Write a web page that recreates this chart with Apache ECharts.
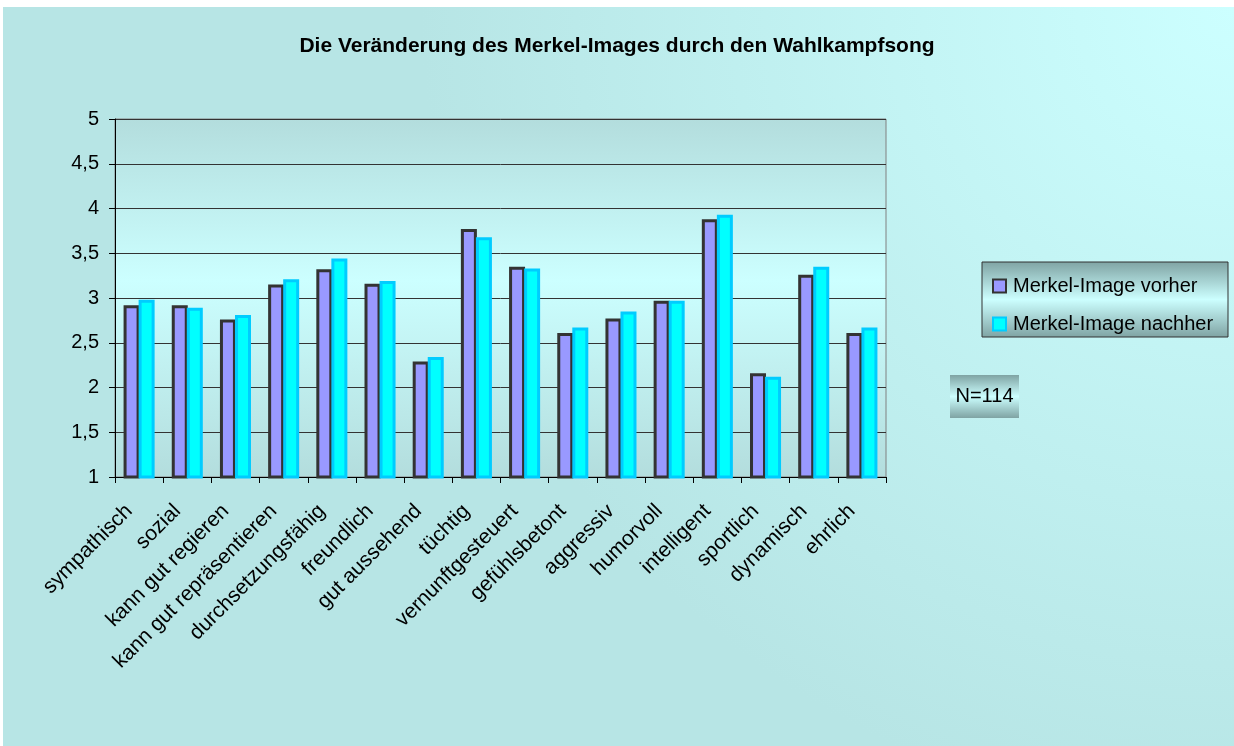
<!DOCTYPE html>
<html>
<head>
<meta charset="utf-8">
<script src="https://cdn.jsdelivr.net/npm/echarts@6/dist/echarts.min.js"></script>
<style>
html, body { margin: 0; padding: 0; background: #ffffff; }
#chart { width: 1234px; height: 746px; }
</style>
</head>
<body>
<div id="chart"></div>
<script>
var categories = ['sympathisch', 'sozial', 'kann gut regieren', 'kann gut repräsentieren',
    'durchsetzungsfähig', 'freundlich', 'gut aussehend', 'tüchtig', 'vernunftgesteuert',
    'gefühlsbetont', 'aggressiv', 'humorvoll', 'intelligent', 'sportlich', 'dynamisch', 'ehrlich'];
var vorher = [2.92, 2.92, 2.76, 3.15, 3.32, 3.16, 2.29, 3.77, 3.35, 2.61, 2.77, 2.97, 3.88, 2.16, 3.26, 2.61];
var nachher = [2.98, 2.89, 2.81, 3.21, 3.44, 3.19, 2.34, 3.68, 3.33, 2.67, 2.85, 2.97, 3.93, 2.12, 3.35, 2.67];
var seriesNames = ['Merkel-Image vorher', 'Merkel-Image nachher'];
var yMin = 1, yMax = 5, yStep = 0.5;
var noteText = 'N=114';

var FONT = '"Liberation Sans", Arial, sans-serif';

var chart = echarts.init(document.getElementById('chart'));

// gray - light cyan - gray, used for the legend box and the N box
function boxGradient() {
    return new echarts.graphic.LinearGradient(0, 0, 0, 1, [
        { offset: 0, color: '#7fa3a3' },
        { offset: 0.5, color: '#ccffff' },
        { offset: 1, color: '#7fa3a3' }
    ]);
}

var option = {
    backgroundColor: '#ffffff',
    textStyle: { fontFamily: FONT },
    title: {
        text: 'Die Veränderung des Merkel-Images durch den Wahlkampfsong',
        left: 'center',
        top: 31,
        textStyle: {
            fontFamily: FONT,
            fontSize: 21,
            fontWeight: 'bold',
            color: '#000000'
        }
    },
    graphic: [{
        type: 'rect',
        z: -10,
        shape: { x: 3, y: 7, width: 1231, height: 739 },
        style: {
            fill: new echarts.graphic.RadialGradient(1, 0, 1.1, [
                { offset: 0, color: '#ccffff' },
                { offset: 1, color: '#b7e5e5' }
            ])
        },
        silent: true
    }, {
        type: 'rect',
        z: 1,
        shape: { x: 982, y: 262, width: 246, height: 75 },
        style: { fill: boxGradient(), stroke: '#333333', lineWidth: 1 },
        silent: true
    }, {
        type: 'group',
        left: 950,
        top: 375,
        z: 1,
        children: [{
            type: 'rect',
            shape: { x: 0, y: 0, width: 69, height: 43 },
            style: { fill: boxGradient() }
        }, {
            type: 'text',
            x: 34.5,
            y: 21.5,
            style: {
                text: noteText,
                font: '20px ' + FONT,
                fill: '#000000',
                align: 'center',
                verticalAlign: 'middle'
            }
        }]
    }],
    legend: {
        orient: 'vertical',
        left: 987,
        top: 271,
        itemWidth: 13,
        itemHeight: 13,
        itemGap: 18,
        icon: 'rect',
        z: 5,
        itemStyle: { borderWidth: 2 },
        textStyle: { fontFamily: FONT, fontSize: 20, color: '#000000', padding: [0, 0, 0, 2] },
        data: seriesNames
    },
    grid: {
        left: 115,
        right: 348,
        top: 119,
        bottom: 269,
        show: true,
        borderColor: '#808080',
        borderWidth: 1,
        backgroundColor: new echarts.graphic.LinearGradient(0, 0, 0, 1, [
            { offset: 0, color: '#b3dddd' },
            { offset: 0.45, color: '#ccffff' },
            { offset: 1, color: '#b3dddd' }
        ])
    },
    xAxis: {
        type: 'category',
        data: categories,
        axisLine: { lineStyle: { color: '#000000', width: 1 } },
        axisTick: { show: true, length: 6, lineStyle: { color: '#000000' } },
        axisLabel: {
            rotate: 45,
            margin: 21,
            interval: 0,
            padding: [0, 14, 0, 0],
            fontFamily: FONT,
            fontSize: 21,
            color: '#000000'
        }
    },
    yAxis: {
        type: 'value',
        min: yMin,
        max: yMax,
        interval: yStep,
        axisLine: { show: true, lineStyle: { color: '#000000', width: 1 } },
        axisTick: { show: true, length: 6, lineStyle: { color: '#000000' } },
        axisLabel: {
            margin: 16,
            fontFamily: FONT,
            fontSize: 20,
            color: '#000000',
            formatter: function (v) {
                return String(v).replace('.', ',');
            }
        },
        splitLine: { show: true, lineStyle: { color: '#333333', width: 1 } }
    },
    series: [{
        name: seriesNames[0],
        type: 'bar',
        barWidth: 16,
        barGap: '-6%',
        itemStyle: {
            color: '#9999ff',
            borderColor: '#333333',
            borderWidth: 3
        },
        data: vorher
    }, {
        name: seriesNames[1],
        type: 'bar',
        barWidth: 16,
        barGap: '-6%',
        itemStyle: {
            color: '#00ffff',
            borderColor: '#00ccff',
            borderWidth: 3
        },
        data: nachher
    }]
};

chart.setOption(option);
</script>
</body>
</html>
